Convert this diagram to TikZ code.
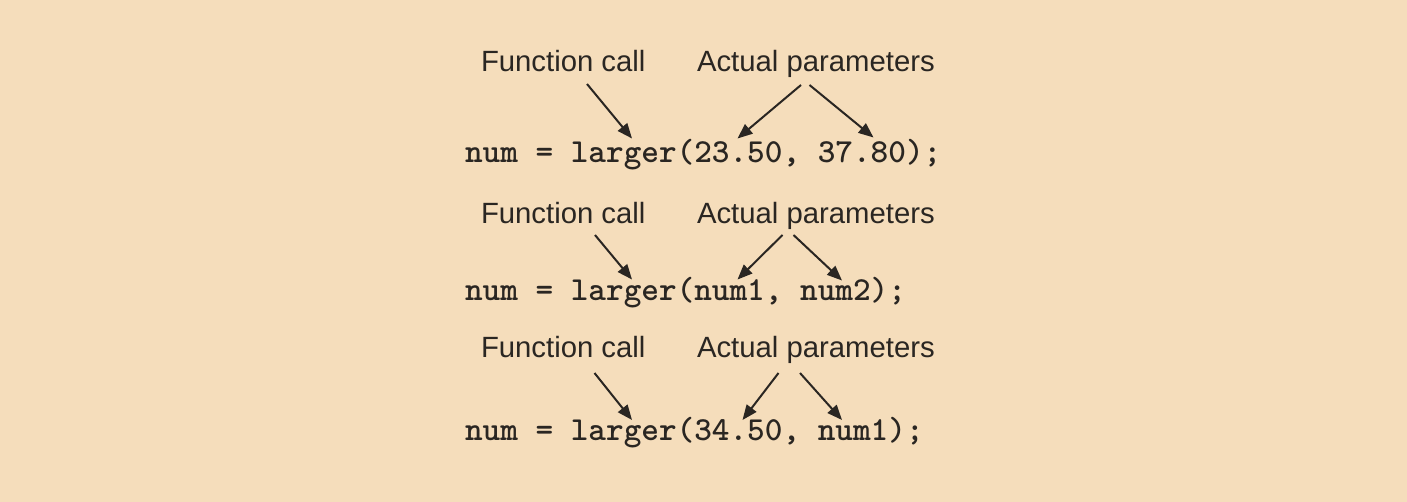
\documentclass[tikz,border=0pt]{standalone}
\usepackage{fontspec}
\setmainfont{Liberation Sans}
\usetikzlibrary{arrows.meta}
\definecolor{bg}{HTML}{F5DDBB}
\definecolor{ink}{HTML}{2A2622}
\begin{document}
\begin{tikzpicture}[x=1pt,y=-1pt,
  lbl/.style={anchor=base west,inner sep=0pt,outer sep=0pt,text=ink,font=\fontsize{29.3}{30}\selectfont},
  code/.style={anchor=base west,inner sep=0pt,outer sep=0pt,text=ink,font=\ttfamily\bfseries\fontsize{33.6}{36}\selectfont\addfontfeature{FakeBold=0.8}},
  arr/.style={draw=ink,line width=2pt,-{Triangle[length=15pt,width=12pt]}}]
\fill[bg] (0,0) rectangle (1407,502);
\useasboundingbox (0,0) rectangle (1407,502);
% row 1
\node[lbl] (fc1) at (481,71.7) {Function call};
\node[lbl] (ap1) at (697,71.7) {Actual parameters};
\node[code] (c1) at (465,162.5) {num = larger(23.50, 37.80);};
\coordinate (f1s) at (587,84);
\coordinate (f1e) at (632,138.5);
\coordinate (a1s) at (801,85);
\coordinate (a1e) at (737.5,138.5);
\coordinate (b1s) at (809.5,85);
\coordinate (b1e) at (873.5,137.5);
\draw[arr] (f1s) -- (f1e);
\draw[arr] (a1s) -- (a1e);
\draw[arr] (b1s) -- (b1e);
% row 2
\node[lbl] (fc2) at (481,223.3) {Function call};
\node[lbl] (ap2) at (697,223.3) {Actual parameters};
\node[code] (c2) at (465,300.5) {num = larger(num1, num2);};
\coordinate (f2s) at (595,235);
\coordinate (f2e) at (632,279.5);
\coordinate (a2s) at (782.5,235);
\coordinate (a2e) at (737.5,279.5);
\coordinate (b2s) at (793.5,235);
\coordinate (b2e) at (842,280.5);
\draw[arr] (f2s) -- (f2e);
\draw[arr] (a2s) -- (a2e);
\draw[arr] (b2s) -- (b2e);
% row 3
\node[lbl] (fc3) at (481,357) {Function call};
\node[lbl] (ap3) at (697,357) {Actual parameters};
\node[code] (c3) at (465,440.5) {num = larger(34.50, num1);};
\coordinate (f3s) at (594.5,373);
\coordinate (f3e) at (632,420);
\coordinate (a3s) at (778.5,373);
\coordinate (a3e) at (742.5,420);
\coordinate (b3s) at (800,373);
\coordinate (b3e) at (842,420);
\draw[arr] (f3s) -- (f3e);
\draw[arr] (a3s) -- (a3e);
\draw[arr] (b3s) -- (b3e);
\end{tikzpicture}
\end{document}
